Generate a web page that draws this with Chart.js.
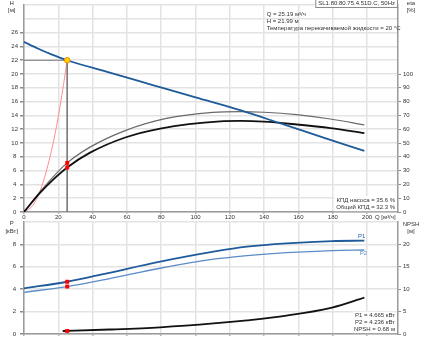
<!DOCTYPE html>
<html><head><meta charset="utf-8">
<script src="https://cdn.jsdelivr.net/npm/chart.js@4"></script>
<style>
html,body{margin:0;padding:0;background:#fff;}
#wrap{position:relative;width:429px;height:339px;overflow:hidden;background:#fff;}
#c1{position:absolute;left:0;top:0;}
#c2{position:absolute;left:0;top:216px;}
</style></head><body>
<div id="wrap"><canvas id="c1" width="429" height="224"></canvas><canvas id="c2" width="429" height="123"></canvas></div>
<script>
// ---- data ----
const headQ = [0, 8, 16, 25.19, 50, 75, 100, 126, 150, 175, 198.4];
const headH = [24.65, 23.7, 22.85, 21.99, 20.2, 18.4, 16.6, 14.75, 12.8, 10.75, 8.85];
const etaPumpQ = [0, 9.3, 17, 25.19, 38.5, 59, 83, 110, 126, 140, 159, 178.6, 198.4];
const etaPump  = [0, 14.5, 25.5, 35.6, 47, 59, 67.8, 72.2, 72.8, 72.3, 70.5, 67.4, 63.1];
const etaTotQ  = [0, 9.3, 17, 25.19, 38.5, 59, 79.4, 114.4, 126, 139.7, 159.1, 178.6, 198.4];
const etaTot   = [0, 13.8, 23.5, 32.3, 43, 54, 60.5, 65.7, 66, 65.5, 63.4, 60.8, 57.2];
const sysQ = [0, 5, 9.3, 13, 17.1, 21, 25.19];
const sysH = [0, 0.9, 3.0, 5.9, 10.1, 15.3, 21.99];
const p1Q = [0, 25.19, 48.3, 79.4, 110.5, 130, 153, 179.6, 198.4];
const p1  = [4.08, 4.665, 5.42, 6.46, 7.35, 7.8, 8.1, 8.3, 8.33];
const p2Q = [0, 25.19, 50, 79.4, 110.5, 130, 153, 179.6, 198.4];
const p2  = [3.72, 4.236, 4.95, 5.87, 6.68, 7.0, 7.26, 7.45, 7.5];
const npshQ = [22.5, 25.19, 50, 79.4, 110.5, 130, 153, 179.6, 198.4];
const npsh  = [0.66, 0.68, 1.0, 1.5, 2.35, 3.05, 4.1, 5.9, 8.1];
const opQ = 25.19, opH = 21.99, opEtaPump = 35.6, opEtaTot = 32.3, opP1 = 4.665, opP2 = 4.236, opNpsh = 0.68;
const qTickStep = 20, hTickMax = 26, etaTickMax = 100, pTickMax = 8, npshTickMax = 20;
const modelText = 'SL1.80.80.75.4.51D.C, 50Hz';
const infoLines = ['Q = 25.19 м³/ч', 'H = 21.99 м', 'Температура перекачиваемой жидкости = 20 °C'];
const effLines = ['КПД насоса = 35.6 %', 'Общий КПД = 32.3 %'];
const powLines = ['P1 = 4.665 кВт', 'P2 = 4.236 кВт', 'NPSH = 0.68 м'];

const pts = (xs, ys) => xs.map((x, i) => ({x, y: ys[i]}));
const FONT = '"Liberation Sans", Arial, sans-serif';
const BLUE = '#1f5a9a', BLUE2 = '#5b8cc8', GRID = '#e3e3e3', AX = '#9a9a9a', TXT = '#333';
Chart.defaults.font.family = FONT;
Chart.defaults.font.size = 6;

function txt(ctx, s, x, y, align, color, bg) {
  ctx.save();
  ctx.font = '6px ' + FONT;
  ctx.textAlign = align; ctx.textBaseline = 'middle';
  if (bg) {
    const w = ctx.measureText(s).width;
    const lx = align === 'right' ? x - w : align === 'center' ? x - w / 2 : x;
    ctx.fillStyle = bg; ctx.fillRect(lx - 2, y - 4, w + 4, 8);
  }
  ctx.fillStyle = color; ctx.fillText(s, x, y);
  ctx.restore();
}

const notes1 = {
  id: 'notes1',
  afterDraw(chart) {
    const ctx = chart.ctx;
    txt(ctx, 'H', 11.7, 3.3, 'center', TXT);
    txt(ctx, '[м]', 11.7, 10, 'center', TXT);
    txt(ctx, 'eta', 411, 3.3, 'center', TXT);
    txt(ctx, '[%]', 411, 10, 'center', TXT);
    // model box
    ctx.save();
    ctx.font = '6px ' + FONT;
    const w = ctx.measureText(modelText).width;
    ctx.fillStyle = '#fff'; ctx.fillRect(397 - w - 5, -1, w + 5, 9);
    ctx.strokeStyle = '#8a8a8a'; ctx.lineWidth = 1; ctx.strokeRect(397.5 - w - 5, -1.5, w + 5, 9);
    ctx.restore();
    txt(ctx, modelText, 395, 3.5, 'right', TXT);
    infoLines.forEach((s, i) => txt(ctx, s, 266.7, 14.5 + i * 6.7, 'left', TXT));
    effLines.forEach((s, i) => txt(ctx, s, 395, 200 + i * 7.2, 'right', TXT, '#fff'));
    txt(ctx, 'Q [м³/ч]', 375, 217.5, 'left', TXT);
  }
};

const notes2 = {
  id: 'notes2',
  afterDraw(chart) {
    const ctx = chart.ctx;
    txt(ctx, 'P', 11.7, 7.5, 'center', TXT);
    txt(ctx, '[кВт]', 11.7, 15.5, 'center', TXT);
    txt(ctx, 'NPSH', 411, 8, 'center', TXT);
    txt(ctx, '[м]', 411, 15.5, 'center', TXT);
    txt(ctx, 'P1', 361.7, 20.7, 'center', BLUE);
    txt(ctx, 'P2', 363.3, 37.3, 'center', BLUE2);
    powLines.forEach((s, i) => txt(ctx, s, 395, 99.7 + i * 6.7, 'right', TXT, '#fff'));
  }
};

const hideAbove = (max) => (v) => (v <= max ? String(v) : '');
const tickCol = (max) => (c) => (c.tick && c.tick.value <= max ? '#8a8a8a' : 'rgba(0,0,0,0)');

function fixW(w) { return (s) => { s.width = w; s.paddingTop = 0; s.paddingBottom = 0; }; }
function fixH(h) { return (s) => { s.height = h; s.paddingLeft = 0; s.paddingRight = 0; }; }

const xScale = (showLabels, h) => ({
  type: 'linear', min: 0, max: 218,
  ticks: { display: showLabels, stepSize: qTickStep, includeBounds: false, color: TXT, padding: 0, maxRotation: 0, autoSkip: false, font: {size: 6} },
  grid: { color: GRID, lineWidth: 1.5, tickLength: 2, tickColor: '#b0b0b0' },
  border: { color: AX, width: 1.5 },
  afterFit: fixH(h)
});

const common = {
  responsive: false, animation: false, devicePixelRatio: 1,
  plugins: { legend: { display: false }, tooltip: { enabled: false } },
  elements: { point: { radius: 0 }, line: { cubicInterpolationMode: 'monotone', fill: false } }
};

new Chart(document.getElementById('c1'), {
  type: 'line',
  data: { datasets: [
    { data: [{x: opQ, y: opEtaPump}, {x: opQ, y: opEtaTot}], yAxisID: 'yE', showLine: false, pointStyle: 'rect', pointRadius: 2.8, pointBackgroundColor: '#ff0000', pointBorderColor: '#ff0000', pointBorderWidth: 0 },
    { data: [{x: opQ, y: opH}], yAxisID: 'yH', showLine: false, pointRadius: 2.8, pointBackgroundColor: '#ffd400', pointBorderColor: '#f08a00', pointBorderWidth: 1 },
    { data: pts(headQ, headH), yAxisID: 'yH', borderColor: BLUE, borderWidth: 1.8 },
    { data: pts(etaTotQ, etaTot), yAxisID: 'yE', borderColor: '#111', borderWidth: 1.8 },
    { data: pts(etaPumpQ, etaPump), yAxisID: 'yE', borderColor: '#6a6a6a', borderWidth: 1.2 },
    { data: [{x: 0, y: opH}, {x: opQ, y: opH}, {x: opQ, y: 0}], yAxisID: 'yH', borderColor: '#7a7a7a', borderWidth: 1, cubicInterpolationMode: 'default', tension: 0 },
    { data: pts(sysQ, sysH), yAxisID: 'yH', borderColor: '#ff8f8f', borderWidth: 1 }
  ]},
  options: Object.assign({}, common, {
    layout: { padding: 0 },
    scales: {
      x: xScale(true, 12),
      yH: { position: 'left', min: 0, max: 30,
        ticks: { stepSize: 2, callback: hideAbove(hTickMax), color: TXT, padding: 2, crossAlign: 'center', font: {size: 6} },
        grid: { color: GRID, lineWidth: 1.5, tickLength: 4, tickColor: tickCol(hTickMax) },
        border: { color: AX, width: 1.5 }, afterFit: fixW(24) },
      yE: { position: 'right', min: 0, max: 150,
        ticks: { stepSize: 10, callback: hideAbove(etaTickMax), color: TXT, padding: 2, font: {size: 6} },
        grid: { drawOnChartArea: false, tickLength: 3, tickColor: tickCol(etaTickMax) },
        border: { color: AX, width: 1.5 }, afterFit: fixW(31) }
    }
  }),
  plugins: [notes1]
});

new Chart(document.getElementById('c2'), {
  type: 'line',
  data: { datasets: [
    { data: [{x: opQ, y: opP1}, {x: opQ, y: opP2}], yAxisID: 'yP', showLine: false, pointStyle: 'rect', pointRadius: 2.8, pointBackgroundColor: '#ff0000', pointBorderWidth: 0 },
    { data: [{x: opQ, y: opNpsh}], yAxisID: 'yN', showLine: false, pointStyle: 'rect', pointRadius: 2.8, pointBackgroundColor: '#ff0000', pointBorderWidth: 0 },
    { data: pts(p1Q, p1), yAxisID: 'yP', borderColor: BLUE, borderWidth: 1.8 },
    { data: pts(p2Q, p2), yAxisID: 'yP', borderColor: BLUE2, borderWidth: 1.3 },
    { data: pts(npshQ, npsh), yAxisID: 'yN', borderColor: '#111', borderWidth: 1.8 }
  ]},
  options: Object.assign({}, common, {
    layout: { padding: { top: 6 } },
    scales: {
      x: xScale(false, 5),
      yP: { position: 'left', min: 0, max: 10,
        ticks: { stepSize: 2, callback: hideAbove(pTickMax), color: TXT, padding: 4, crossAlign: 'center', font: {size: 6} },
        grid: { color: GRID, lineWidth: 1.5, tickLength: 4, tickColor: tickCol(pTickMax) },
        border: { color: AX, width: 1.5 }, afterFit: fixW(24) },
      yN: { position: 'right', min: 0, max: 25,
        ticks: { stepSize: 5, callback: hideAbove(npshTickMax), color: TXT, padding: 2, font: {size: 6} },
        grid: { drawOnChartArea: false, tickLength: 3, tickColor: tickCol(npshTickMax) },
        border: { color: AX, width: 1.5 }, afterFit: fixW(31) }
    }
  }),
  plugins: [notes2]
});
</script>
</body></html>
